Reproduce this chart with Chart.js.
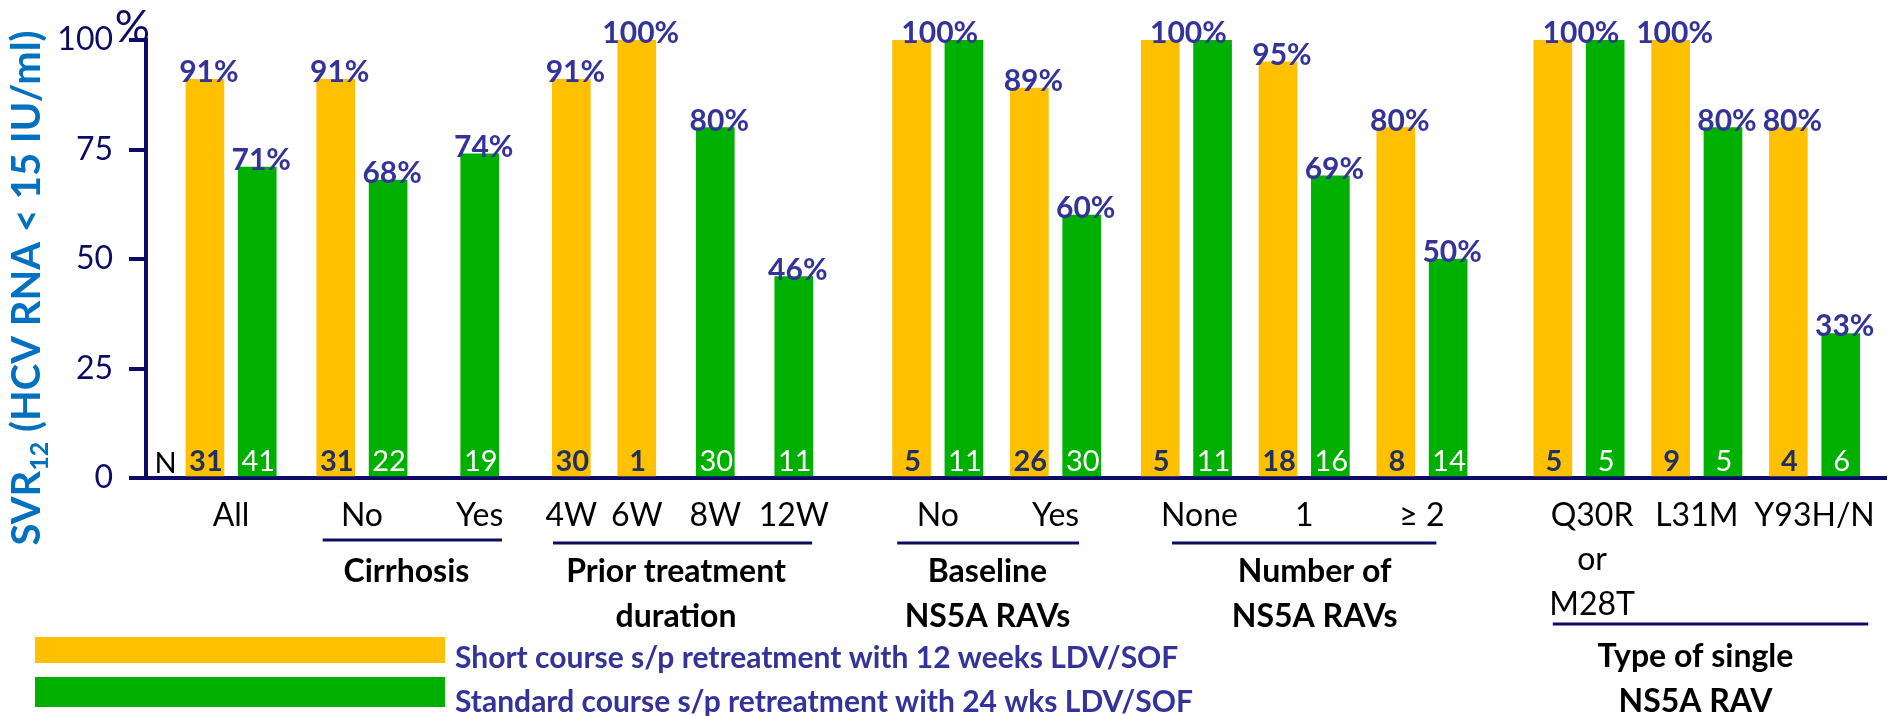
<!DOCTYPE html>
<html>
<head>
<meta charset="utf-8">
<script src="https://cdn.jsdelivr.net/npm/chart.js@4.4.0/dist/chart.umd.min.js"></script>
<style>
  html, body { margin: 0; padding: 0; background: #fff; }
  #wrap { width: 1895px; height: 716px; position: relative; }
</style>
</head>
<body>
<div id="wrap"><canvas id="svrChart"></canvas></div>
<script>
// subgroups along the x axis
const subgroups = ['All', 'No', 'Yes', '4W', '6W', '8W', '12W', 'No', 'Yes', 'None', '1', '≥ 2', ['Q30R', 'or', 'M28T'], 'L31M', 'Y93H/N'];

// SVR12 rates (%) per subgroup
const shortPct    = [91, 91, null, 91, 100, null, null, 100, 89, 100, 95, 80, 100, 100, 80];
const standardPct = [71, 68, 74, null, null, 80, 46, 100, 60, 100, 69, 50, 100, 80, 33];

// patients per bar
const shortN    = [31, 31, null, 30, 1, null, null, 5, 26, 5, 18, 8, 5, 9, 4];
const standardN = [41, 22, 19, null, null, 30, 11, 11, 30, 11, 16, 14, 5, 5, 6];

const groupTitles = [['Cirrhosis'], ['Prior treatment', 'duration'], ['Baseline', 'NS5A RAVs'], ['Number of', 'NS5A RAVs'], ['Type of single', 'NS5A RAV']];
const seriesNames = ['Short course s/p retreatment with 12 weeks LDV/SOF', 'Standard course s/p retreatment with 24 wks LDV/SOF'];
const yTicks = [0, 25, 50, 75, 100];

// layout: the x axis is a row of narrow slots, bars and labels sit in some of them
const SLOTS = 133;
const slotShort    = [4, 14, null, 32, 37, null, null, 58, 67, 77, 86, 95, 107, 116, 125];
const slotStandard = [8, 18, 25, null, null, 43, 49, 62, 71, 81, 90, 99, 111, 120, 129];
const slotLabel    = [6, 16, 25, 32, 37, 43, 49, 60, 69, 80, 88, 97, 110, 118, 127];
const groupSpan    = [[13.0, 26.7], [30.6, 50.4], [56.9, 70.8], [77.9, 98.1], [107.0, 131.1]];
const groupCenter  = [19.4, 40.0, 63.8, 88.8, 117.9];
const groupRuleY   = [540, 543, 543, 543, 624];
const groupTextY   = [582, 582, 582, 582, 667];

const ORANGE = '#FFC000';
const GREEN = '#00B000';
const NAVY = '#0c0c66';
const LABEL_BLUE = '#333399';
const FONT = 'Lato, Carlito, "Open Sans", sans-serif';

const labels = Array(SLOTS).fill('');
slotLabel.forEach((s, i) => { labels[s] = subgroups[i]; });

function spread(slots, values) {
  const out = Array(SLOTS).fill(null);
  slots.forEach((s, i) => { if (s !== null && values[i] !== null) out[s] = values[i]; });
  return out;
}

const annotations = {
  id: 'annotations',
  afterDatasetsDraw(chart) {
    const ctx = chart.ctx;
    const metaS = chart.getDatasetMeta(0);
    const metaG = chart.getDatasetMeta(1);
    ctx.save();
    ctx.textAlign = 'center';
    ctx.textBaseline = 'alphabetic';

    subgroups.forEach((_, i) => {
      const bS = slotShort[i] !== null ? metaS.data[slotShort[i]] : null;
      const bG = slotStandard[i] !== null ? metaG.data[slotStandard[i]] : null;

      // n at the foot of each bar
      if (bS) {
        ctx.font = 'bold 29px ' + FONT;
        ctx.fillStyle = '#1f2f5f';
        ctx.fillText(String(shortN[i]), bS.x + 1, bS.base - 5);
      }
      if (bG) {
        ctx.font = '29px ' + FONT;
        ctx.fillStyle = '#ffffff';
        ctx.fillText(String(standardN[i]), bG.x + 1, bG.base - 5);
      }

      // percentages on top, one shared label when both bars are equal
      ctx.font = 'bold 30px ' + FONT;
      ctx.fillStyle = LABEL_BLUE;
      if (bS && bG && shortPct[i] === standardPct[i]) {
        ctx.fillText(shortPct[i] + '%', (bS.x + bG.x) / 2 + 2, Math.min(bS.y, bG.y) + 3);
      } else {
        if (bS) ctx.fillText(shortPct[i] + '%', bS.x + 4, bS.y + 3);
        if (bG) ctx.fillText(standardPct[i] + '%', bG.x + 4, bG.y + 3);
      }
    });

    // "N" row marker
    ctx.font = '29px ' + FONT;
    ctx.fillStyle = '#000';
    const x = chart.scales.x;
    ctx.fillText('N', x.getPixelForValue(1), chart.chartArea.bottom - 5);
    ctx.restore();
  },
  afterDraw(chart) {
    const ctx = chart.ctx;
    const x = chart.scales.x;
    ctx.save();

    // group rules and titles under the sub-labels
    groupTitles.forEach((lines, g) => {
      ctx.strokeStyle = NAVY;
      ctx.lineWidth = 3;
      ctx.beginPath();
      ctx.moveTo(x.getPixelForValue(groupSpan[g][0]), groupRuleY[g]);
      ctx.lineTo(x.getPixelForValue(groupSpan[g][1]), groupRuleY[g]);
      ctx.stroke();

      ctx.font = 'bold 32px ' + FONT;
      ctx.fillStyle = '#000';
      ctx.textAlign = 'center';
      ctx.textBaseline = 'alphabetic';
      lines.forEach((t, k) => {
        ctx.fillText(t, x.getPixelForValue(groupCenter[g]), groupTextY[g] + k * 45);
      });
    });

    // legend swatches
    const swatches = [[ORANGE, 637, 26], [GREEN, 677, 30]];
    swatches.forEach(([c, top, h], k) => {
      ctx.fillStyle = c;
      ctx.fillRect(35, top, 410, h);
      ctx.font = 'bold 30px ' + FONT;
      ctx.fillStyle = LABEL_BLUE;
      ctx.textAlign = 'left';
      ctx.fillText(seriesNames[k], 455, k === 0 ? 668 : 712);
    });

    // unit mark at the top of the y axis
    ctx.font = '44px ' + FONT;
    ctx.fillStyle = NAVY;
    ctx.textAlign = 'right';
    ctx.fillText('%', 150, 42);

    // y axis title with subscript
    ctx.translate(40, 288);
    ctx.rotate(-Math.PI / 2);
    ctx.fillStyle = '#0070C0';
    ctx.textAlign = 'left';
    const big = 'bold 40px ' + FONT;
    const small = 'bold 25px ' + FONT;
    const parts = [['SVR', big, 0], ['12', small, 8], [' (HCV RNA < 15 IU/ml)', big, 0]];
    let total = 0;
    parts.forEach(p => { ctx.font = p[1]; total += ctx.measureText(p[0]).width; });
    let pos = -total / 2;
    parts.forEach(p => {
      ctx.font = p[1];
      ctx.fillText(p[0], pos, p[2]);
      pos += ctx.measureText(p[0]).width;
    });
    ctx.restore();
  }
};

new Chart(document.getElementById('svrChart'), {
  type: 'bar',
  data: {
    labels: labels,
    datasets: [
      { label: seriesNames[0], data: spread(slotShort, shortPct), backgroundColor: ORANGE },
      { label: seriesNames[1], data: spread(slotStandard, standardPct), backgroundColor: GREEN }
    ]
  },
  options: {
    responsive: true,
    maintainAspectRatio: false,
    animation: false,
    layout: { padding: { top: 40, left: 0, right: 0, bottom: 0 } },
    datasets: { bar: { grouped: false, barThickness: 38 } },
    scales: {
      x: {
        z: 1,
        ticks: {
          autoSkip: false,
          maxRotation: 0,
          minRotation: 0,
          color: '#000',
          padding: 15,
          font: { family: FONT, size: 32, lineHeight: 1.39 }
        },
        grid: { display: false, drawTicks: false },
        border: { color: NAVY, width: 4 },
        afterFit(scale) { scale.height = 238; }
      },
      y: {
        min: 0,
        max: 100,
        afterBuildTicks(scale) { scale.ticks = yTicks.map(v => ({ value: v })); },
        ticks: {
          color: NAVY,
          padding: 16,
          font: { family: FONT, size: 32 }
        },
        grid: { drawOnChartArea: false, drawTicks: true, tickLength: 17, color: NAVY, lineWidth: 4 },
        border: { color: NAVY, width: 4 },
        afterFit(scale) { scale.width = 146; }
      }
    },
    plugins: {
      legend: { display: false },
      tooltip: { enabled: false }
    }
  },
  plugins: [annotations]
});
</script>
</body>
</html>
